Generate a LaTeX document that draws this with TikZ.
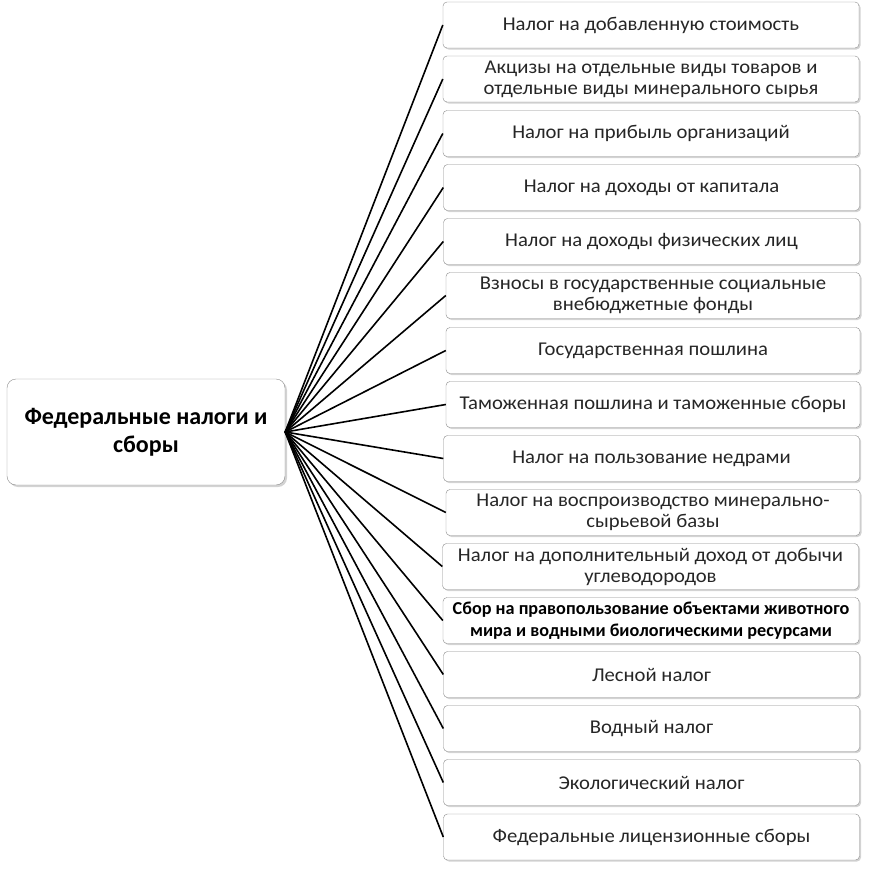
\documentclass[tikz,border=0pt]{standalone}
\usepackage{fontspec}
\setmainfont{Carlito}
\newfontfamily\leaffont[FakeStretch=1.06]{Carlito}
\usepackage{tikz}
\usetikzlibrary{shapes,shadows}
\tikzstyle{line} = [draw, line width=1.6pt]
\tikzstyle{leaf} = [draw=black!45, fill=white, text=black!85, rounded corners=4pt, minimum width=416pt, minimum height=46pt, align=center, inner sep=0pt, font=\leaffont\fontsize{19.5}{21}\selectfont, drop shadow={shadow xshift=1.5pt, shadow yshift=-1.5pt, opacity=0.35}]
\tikzstyle{root} = [draw=black!45, fill=white, rounded corners=9pt, minimum width=278pt, minimum height=106pt, align=center, inner sep=0pt, font=\bfseries\fontsize{24}{28}\selectfont, drop shadow={shadow xshift=2pt, shadow yshift=-2pt, opacity=0.35}]
\usepackage{xcolor}

\begin{document}
\begin{tikzpicture}[x=1pt, y=-1pt]
    \useasboundingbox (0,0) rectangle (871,870);
    % main box
    \node[root] (fed) at (146,432) {Федеральные налоги и\\сборы};
    % taxes
    \node[leaf] (vat) at (651,25) {Налог на добавленную стоимость};
    \node[leaf] (excise) at (651,79) {Акцизы на отдельные виды товаров и\\отдельные виды минерального сырья};
    \node[leaf] (profit) at (651,133.5) {Налог на прибыль организаций};
    \node[leaf] (capital) at (651.5,187.5) {Налог на доходы от капитала};
    \node[leaf] (income) at (651.5,241.5) {Налог на доходы физических лиц};
    \node[leaf, minimum width=414pt] (funds) at (653,295.5) {Взносы в государственные социальные\\внебюджетные фонды};
    \node[leaf, minimum width=414pt] (duty) at (653,350.5) {Государственная пошлина};
    \node[leaf, minimum width=414pt] (customs) at (653,404.5) {Таможенная пошлина и таможенные сборы};
    \node[leaf] (subsoil) at (651.5,458.5) {Налог на пользование недрами};
    \node[leaf, minimum width=414pt] (reprod) at (653,512.5) {Налог на воспроизводство минерально-\\сырьевой базы};
    \node[leaf] (hydro) at (650.5,566.5) {Налог на дополнительный доход от добычи\\углеводородов};
    \node[leaf, text=black, font=\bfseries\fontsize{18.2}{21.5}\selectfont] (fauna) at (651,620.5) {Сбор на правопользование объектами животного\\мира и водными биологическими ресурсами};
    \node[leaf] (forest) at (651.5,674.5) {Лесной налог};
    \node[leaf] (water) at (651.5,728.5) {Водный налог};
    \node[leaf] (eco) at (651.5,782.5) {Экологический налог};
    \node[leaf] (licence) at (651.5,837) {Федеральные лицензионные сборы};
    % connectors
    \path [line] (fed.east) -- (vat.west);
    \path [line] (fed.east) -- (excise.west);
    \path [line] (fed.east) -- (profit.west);
    \path [line] (fed.east) -- (capital.west);
    \path [line] (fed.east) -- (income.west);
    \path [line] (fed.east) -- (funds.west);
    \path [line] (fed.east) -- (duty.west);
    \path [line] (fed.east) -- (customs.west);
    \path [line] (fed.east) -- (subsoil.west);
    \path [line] (fed.east) -- (reprod.west);
    \path [line] (fed.east) -- (hydro.west);
    \path [line] (fed.east) -- (fauna.west);
    \path [line] (fed.east) -- (forest.west);
    \path [line] (fed.east) -- (water.west);
    \path [line] (fed.east) -- (eco.west);
    \path [line] (fed.east) -- (licence.west);
\end{tikzpicture}
\end{document}
